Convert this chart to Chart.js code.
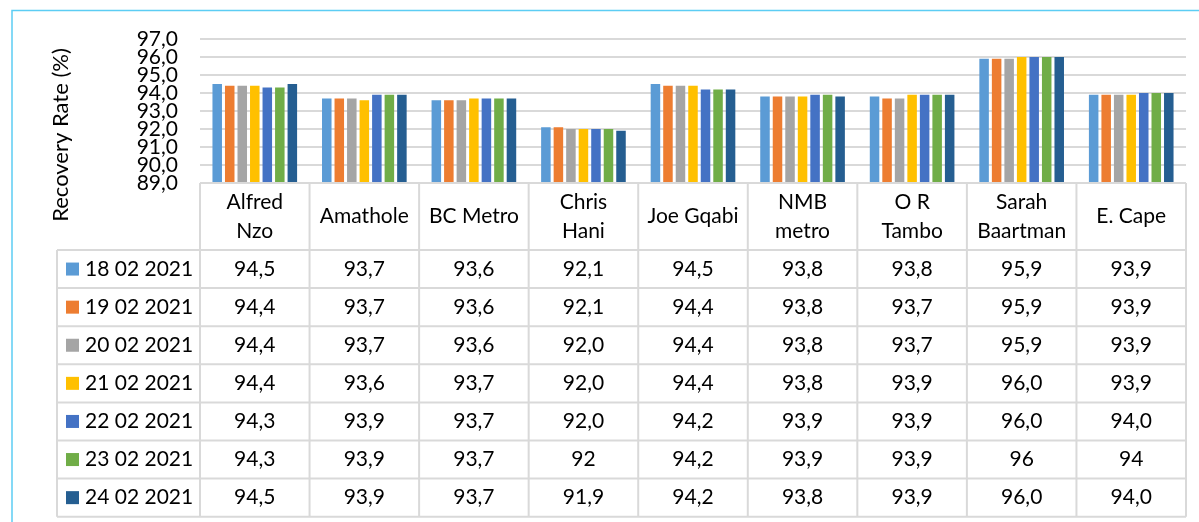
<!DOCTYPE html>
<html>
<head>
<meta charset="utf-8">
<script src="https://cdn.jsdelivr.net/npm/chart.js@4/dist/chart.umd.min.js"></script>
<style>
  body { margin: 0; background: #fff; }
  #wrap { position: relative; width: 1199px; height: 522px; }
</style>
</head>
<body>
<div id="wrap"><canvas id="recoveryChart"></canvas></div>
<script>
const districts = [["Alfred", "Nzo"], "Amathole", "BC Metro", ["Chris", "Hani"], "Joe Gqabi",
  ["NMB", "metro"], ["O R", "Tambo"], ["Sarah", "Baartman"], "E. Cape"];
const dates = ["18 02 2021", "19 02 2021", "20 02 2021", "21 02 2021", "22 02 2021", "23 02 2021", "24 02 2021"];

const feb18 = [94.5, 93.7, 93.6, 92.1, 94.5, 93.8, 93.8, 95.9, 93.9];
const feb19 = [94.4, 93.7, 93.6, 92.1, 94.4, 93.8, 93.7, 95.9, 93.9];
const feb20 = [94.4, 93.7, 93.6, 92.0, 94.4, 93.8, 93.7, 95.9, 93.9];
const feb21 = [94.4, 93.6, 93.7, 92.0, 94.4, 93.8, 93.9, 96.0, 93.9];
const feb22 = [94.3, 93.9, 93.7, 92.0, 94.2, 93.9, 93.9, 96.0, 94.0];
const feb23 = [94.3, 93.9, 93.7, 92, 94.2, 93.9, 93.9, 96, 94];
const feb24 = [94.5, 93.9, 93.7, 91.9, 94.2, 93.8, 93.9, 96.0, 94.0];

// the 23 Feb row is shown in "general" number format in the table
const generalFormat = [false, false, false, false, false, true, false];

const yTicks = { min: 89, max: 97, step: 1 };
const colors = ["#5B9BD5", "#ED7D31", "#A5A5A5", "#FFC000", "#4472C4", "#70AD47", "#255E91"];

const FONT = "Lato";
const allSeries = [feb18, feb19, feb20, feb21, feb22, feb23, feb24];

function fmt(v, general) {
  return (general ? String(v) : v.toFixed(1)).replace(".", ",");
}

const framePlugin = {
  id: "frame",
  beforeDraw(chart) {
    const ctx = chart.ctx;
    ctx.save();
    ctx.strokeStyle = "#5ccdf4";
    ctx.lineWidth = 1.5;
    ctx.beginPath();
    ctx.moveTo(12, chart.height);
    ctx.lineTo(12, 10.5);
    ctx.lineTo(chart.width, 10.5);
    ctx.stroke();

    // axis title
    ctx.translate(61, 135);
    ctx.rotate(-Math.PI / 2);
    ctx.fillStyle = "#000";
    ctx.font = "22px " + FONT;
    ctx.textAlign = "center";
    ctx.textBaseline = "middle";
    ctx.fillText("Recovery Rate (%)", 0, 0);
    ctx.restore();
  }
};

const tablePlugin = {
  id: "dataTable",
  afterDraw(chart) {
    const { ctx, chartArea } = chart;
    const x = chart.scales.x;
    const step = x.getPixelForValue(1) - x.getPixelForValue(0);
    const top = chartArea.bottom;
    const headerH = 67;
    const rowH = 38.1;
    const legendLeft = 57;
    const bodyTop = top + headerH;
    const bottom = bodyTop + rowH * dates.length;

    ctx.save();
    ctx.strokeStyle = "#d9d9d9";
    ctx.lineWidth = 2;
    ctx.beginPath();
    ctx.moveTo(chartArea.left, top);
    ctx.lineTo(chartArea.right, top);
    for (let r = 0; r <= dates.length; r++) {
      const y = bodyTop + r * rowH;
      ctx.moveTo(legendLeft, y);
      ctx.lineTo(chartArea.right, y);
    }
    ctx.moveTo(legendLeft, bodyTop);
    ctx.lineTo(legendLeft, bottom);
    for (let i = 0; i <= districts.length; i++) {
      const xx = chartArea.left + i * step;
      ctx.moveTo(xx, top);
      ctx.lineTo(xx, bottom);
    }
    ctx.stroke();

    ctx.fillStyle = "#000";
    ctx.font = "21px " + FONT;
    ctx.textAlign = "center";
    ctx.textBaseline = "middle";

    // header: district names
    districts.forEach((name, i) => {
      const cx = x.getPixelForValue(i);
      const lines = Array.isArray(name) ? name : [name];
      const cy = top + headerH / 2;
      lines.forEach((line, k) => {
        const off = (k - (lines.length - 1) / 2) * 29;
        ctx.fillText(line, cx, cy + off);
      });
    });

    // rows
    allSeries.forEach((values, r) => {
      const cy = bodyTop + r * rowH + rowH / 2;
      ctx.fillStyle = colors[r];
      ctx.fillRect(66, cy - 6.5, 13, 13);
      ctx.fillStyle = "#000";
      ctx.textAlign = "left";
      ctx.fillText(dates[r], 85, cy);
      ctx.textAlign = "center";
      values.forEach((v, i) => {
        ctx.fillText(fmt(v, generalFormat[r]), x.getPixelForValue(i), cy);
      });
    });
    ctx.restore();
  }
};

new Chart(document.getElementById("recoveryChart"), {
  type: "bar",
  data: {
    labels: districts,
    datasets: allSeries.map((values, r) => ({
      label: dates[r],
      data: values,
      backgroundColor: colors[r],
      barPercentage: 0.76,
      categoryPercentage: 0.8
    }))
  },
  options: {
    responsive: true,
    maintainAspectRatio: false,
    animation: false,
    layout: { padding: { top: 39, bottom: 339, right: 13, left: 0 } },
    plugins: { legend: { display: false }, tooltip: { enabled: false } },
    scales: {
      x: { display: false },
      y: {
        min: yTicks.min,
        max: yTicks.max,
        border: { display: false },
        grid: { color: "#d9d9d9", lineWidth: 2, drawTicks: false },
        ticks: {
          stepSize: yTicks.step,
          autoSkip: false,
          padding: 22,
          color: "#000",
          font: { family: FONT, size: 21, lineHeight: 1 },
          callback: v => fmt(v, false)
        },
        afterFit(scale) { scale.width = 200; }
      }
    }
  },
  plugins: [framePlugin, tablePlugin]
});
</script>
</body>
</html>
